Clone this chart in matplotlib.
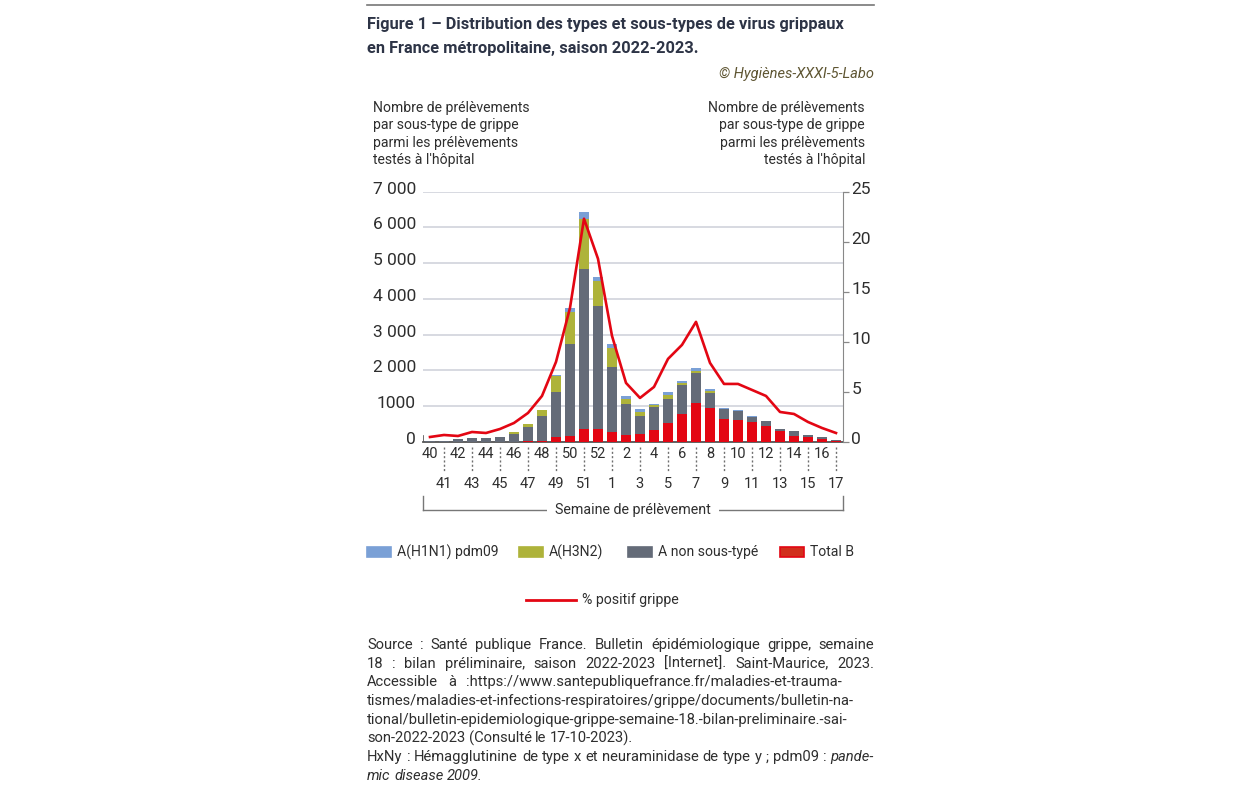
import matplotlib
matplotlib.use("Agg")
import matplotlib.pyplot as plt
import matplotlib.transforms as mtransforms
from matplotlib import font_manager
from matplotlib.patches import Rectangle
from matplotlib.lines import Line2D

# Weekly counts, season 2022-2023 (weeks 40..52 then 1..17)
weeks = [40, 41, 42, 43, 44, 45, 46, 47, 48, 49, 50, 51, 52,
         1, 2, 3, 4, 5, 6, 7, 8, 9, 10, 11, 12, 13, 14, 15, 16, 17]
total_b = [0, 5, 5, 5, 5, 5, 10, 20, 30, 130, 175, 370, 365,
           285, 185, 225, 325, 540, 780, 1080, 950, 635, 615, 565, 445, 300, 175, 130, 75, 20]
a_non_sous_type = [15, 35, 65, 95, 95, 135, 210, 400, 690, 1270, 2565, 4470, 3435,
                   1800, 875, 500, 660, 650, 805, 840, 420, 295, 260, 140, 150, 65, 130, 70, 55, 30]
a_h3n2 = [0, 0, 0, 0, 0, 0, 70, 90, 170, 450, 900, 1390, 715,
          535, 150, 115, 60, 115, 65, 65, 45, 0, 0, 0, 0, 0, 0, 0, 0, 0]
a_h1n1 = [0, 0, 0, 0, 0, 0, 0, 0, 0, 10, 95, 200, 105,
          120, 85, 75, 15, 85, 65, 85, 55, 20, 10, 10, 5, 5, 0, 0, 0, 0]
pct_positif = [0.5, 0.7, 0.6, 1.0, 0.9, 1.3, 1.9, 2.9, 4.6, 8.0, 13.4, 22.3, 18.3,
               10.6, 5.9, 4.4, 5.5, 8.3, 9.7, 12.0, 7.9, 5.8, 5.8, 5.2, 4.6, 3.0, 2.8, 2.0, 1.4, 0.9]

left_ticks = [0, 1000, 2000, 3000, 4000, 5000, 6000, 7000]
left_labels = ["0", "1000", "2 000", "3 000", "4 000", "5 000", "6 000", "7 000"]
right_ticks = [0, 5, 10, 15, 20, 25]

C_BLUE, C_YEL, C_GRAY, C_RED = "#7aa0d6", "#aeb33a", "#646b78", "#e30613"
C_TXT = "#2e2e2e"

W, H = 1240, 788
def fx(px): return px / W
def fy(py): return 1 - py / H

def have_font(name):
    try:
        font_manager.findfont(name, fallback_to_default=False)
        return True
    except Exception:
        return False

BODY = "Roboto"
TITLE = "Liberation Sans Narrow" if have_font("Liberation Sans Narrow") else "Roboto"
plt.rcParams["font.family"] = [BODY, "DejaVu Sans"]

fig = plt.figure(figsize=(W / 100, H / 100), dpi=100)

# plot area: x 423..843 px, y 191.7..442 px
ax = fig.add_axes([fx(423), fy(442), fx(843) - fx(423), fy(191.7) - fy(442)])
x = list(range(len(weeks)))
bw = 0.72
bot1 = total_b
bot2 = [b + a for b, a in zip(total_b, a_non_sous_type)]
bot3 = [b + a for b, a in zip(bot2, a_h3n2)]
ax.bar(x, total_b, bw, color=C_RED, zorder=3)
ax.bar(x, a_non_sous_type, bw, bottom=bot1, color=C_GRAY, zorder=3)
ax.bar(x, a_h3n2, bw, bottom=bot2, color=C_YEL, zorder=3)
ax.bar(x, a_h1n1, bw, bottom=bot3, color=C_BLUE, zorder=3)

ax.set_xlim(-0.5, len(weeks) - 0.5)
ax.set_ylim(0, 7000)
ax.set_yticks(left_ticks, left_labels)
ax.yaxis.grid(True, color="#cdd0d8", lw=1.1, zorder=0)
ax.tick_params(axis="y", length=0, pad=5, labelsize=12.5, labelcolor=C_TXT)
for sp in ["top", "left", "right"]:
    ax.spines[sp].set_visible(False)
ax.spines["bottom"].set_color("#555555")
ax.spines["bottom"].set_linewidth(1.3)
ax.axvline(-0.5, ymax=0.025, color="#555555", lw=1.2)
shift = mtransforms.ScaledTranslation(0, 4 / 100, fig.dpi_scale_trans)
for lab in ax.get_yticklabels():
    lab.set_transform(lab.get_transform() + shift)

# two-row week labels
ax.set_xticks(x[0::2], [str(w) for w in weeks[0::2]])
ax.set_xticks(x[1::2], [str(w) for w in weeks[1::2]], minor=True)
ax.tick_params(axis="x", which="major", length=0, pad=3.5, labelsize=10.5, labelcolor=C_TXT)
ax.tick_params(axis="x", which="minor", length=0, pad=25.5, labelsize=10.5, labelcolor=C_TXT)
xtr = ax.get_xaxis_transform()
for i in x[1::2]:
    ax.plot([i, i], [-0.018, -0.12], transform=xtr, clip_on=False,
            color="#707070", lw=1.0, ls=(0, (1.5, 1.6)))

ax2 = ax.twinx()
ax2.plot(x, pct_positif, color=C_RED, lw=1.9, zorder=5)
ax2.set_ylim(0, 25)
ax2.set_yticks(right_ticks)
for sp in ["top", "left", "bottom"]:
    ax2.spines[sp].set_visible(False)
ax2.spines["right"].set_color("#888888")
ax2.tick_params(axis="y", length=4, width=0.9, color="#888888", pad=2,
                labelsize=12.5, labelcolor=C_TXT)
for lab in ax2.get_yticklabels():
    lab.set_transform(lab.get_transform() + shift)

# header
fig.add_artist(Line2D([fx(367), fx(874)], [fy(5), fy(5)], color="#777777", lw=1.2))
fig.text(fx(367), fy(25), "Figure 1 – Distribution des types et sous-types de virus grippaux",
         family=[TITLE, "DejaVu Sans"], weight="bold", size=11.8, color="#2d3446", va="center")
fig.text(fx(367), fy(49), "en France métropolitaine, saison 2022-2023.",
         family=[TITLE, "DejaVu Sans"], weight="bold", size=11.8, color="#2d3446", va="center")
fig.text(fx(874), fy(74), "© Hygiènes-XXXI-5-Labo", style="italic", size=10.5,
         color="#5e5532", ha="right", va="center")

ax_lab = "Nombre de prélèvements\npar sous-type de grippe\nparmi les prélèvements\ntestés à l'hôpital"
fig.text(fx(373), fy(101), ax_lab, size=10.1, color=C_TXT, va="top", ha="left", linespacing=1.3)
fig.text(fx(865), fy(101), ax_lab, size=10.1, color=C_TXT, va="top", ha="right",
         multialignment="right", linespacing=1.3)

# bracket under the weeks
for seg in ([(423, 510), (843, 510)], [(423, 496), (423, 510)], [(843, 496), (843, 510)]):
    fig.add_artist(Line2D([fx(seg[0][0]), fx(seg[1][0])], [fy(seg[0][1]), fy(seg[1][1])],
                          color="#777777", lw=1.0))
fig.text(fx(633), fy(510), "Semaine de prélèvement", size=10.3, color=C_TXT, ha="center",
         va="center", bbox=dict(fc="white", ec="none", pad=6))

# legend
leg = [(367, C_BLUE, C_BLUE, "A(H1N1) pdm09"), (519, C_YEL, C_YEL, "A(H3N2)"),
       (628, C_GRAY, C_GRAY, "A non sous-typé"), (780, "#d12f1c", C_RED, "Total B")]
for px, fc, ec, name in leg:
    fig.add_artist(Rectangle((fx(px), fy(557)), fx(24), 10 / H, fc=fc, ec=ec, lw=1.2))
    fig.text(fx(px + 30), fy(552), name, size=10.1, color=C_TXT, va="center")
fig.add_artist(Line2D([fx(526), fx(576)], [fy(600), fy(600)], color=C_RED, lw=2.0))
fig.text(fx(582), fy(600), "% positif grippe", size=10.2, color=C_TXT, va="center")

# source note, justified between 367 and 874 px (word gaps capped)
src = [
    ("Source : Santé publique France. Bulletin épidémiologique grippe, semaine", True, 0),
    ("18 : bilan préliminaire, saison 2022-2023 [Internet]. Saint-Maurice, 2023.", True, 0),
    ("Accessible à :https://www.santepubliquefrance.fr/maladies-et-trauma-", True, 0),
    ("tismes/maladies-et-infections-respiratoires/grippe/documents/bulletin-na-", True, 0),
    ("tional/bulletin-epidemiologique-grippe-semaine-18.-bilan-preliminaire.-sai-", True, 0),
    ("son-2022-2023 (Consulté le 17-10-2023).", False, 0),
    ("HxNy : Hémagglutinine de type x et neuraminidase de type y ; pdm09 : pande-", True, 1),
    ("mic disease 2009.", False, 3),
]
renderer = fig.canvas.get_renderer()
x0, x1 = 367, 874
for k, (line, justify, n_ital) in enumerate(src):
    yy = fy(645 + k * 18.7)
    words = line.split(" ")
    ital = [False] * (len(words) - n_ital) + [True] * n_ital
    texts = [fig.text(0, yy, w, size=10.6, color=C_TXT, va="center",
                      style="italic" if it else "normal") for w, it in zip(words, ital)]
    widths = [t.get_window_extent(renderer).width for t in texts]
    if justify and len(words) > 1:
        gap = min((x1 - x0 - sum(widths)) / (len(words) - 1), 10)
    else:
        gap = 3.5
    pos = x0
    for t, wd in zip(texts, widths):
        t.set_x(fx(pos))
        pos += wd + gap

fig.savefig("out.png", dpi=100)
